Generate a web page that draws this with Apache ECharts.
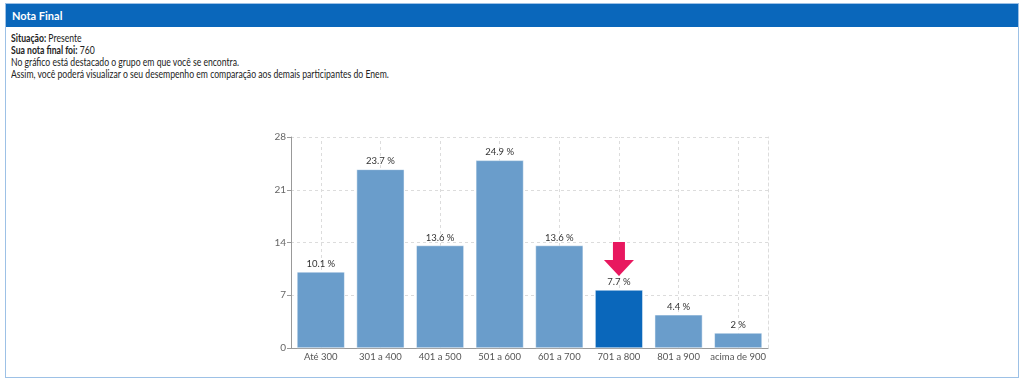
<!DOCTYPE html>
<html><head><meta charset="utf-8">
<script src="https://cdn.jsdelivr.net/npm/echarts@6/dist/echarts.min.js"></script>
<style>
html,body{margin:0;padding:0;width:1024px;height:384px;background:#fff;overflow:hidden;font-family:Lato,"Open Sans",sans-serif;}
#panel{position:absolute;left:5px;top:3px;width:1012px;height:373px;border:1px solid #9dc1e6;box-sizing:content-box;}
#head{position:absolute;left:0;top:0;width:100%;height:23px;background:#0a67bb;color:#fff;font-weight:bold;font-size:11px;line-height:23px;padding-left:6px;box-sizing:border-box;}
#txt{position:absolute;left:5px;top:28px;font-size:10.8px;line-height:12px;color:#222;transform:scaleX(0.8);transform-origin:0 0;white-space:nowrap;}
#chart{position:absolute;left:0;top:0;width:1024px;height:384px;}
</style></head><body>
<div id="panel"><div id="head">Nota Final</div>
<div id="txt"><b>Situação:</b> Presente<br><b>Sua nota final foi:</b> 760<br>No gráfico está destacado o grupo em que você se encontra.<br>Assim, você poderá visualizar o seu desempenho em comparação aos demais participantes do Enem.</div>
</div>
<div id="chart"></div>
<script>
const categories = ['Até 300','301 a 400','401 a 500','501 a 600','601 a 700','701 a 800','801 a 900','acima de 900'];
const values = [10.1, 23.7, 13.6, 24.9, 13.6, 7.7, 4.4, 2];
const highlightCategory = '701 a 800';
const yTicks = {min: 0, max: 28, interval: 7};

const chart = echarts.init(document.getElementById('chart'), null, {renderer:'canvas'});
const hiIdx = categories.indexOf(highlightCategory);
const gridDash = {color:'#dcdcdc', type:[3,3], width:1};
chart.setOption({
  animation:false,
  backgroundColor:'transparent',
  grid:{left:291, right:256, top:137, bottom:36},
  xAxis:{type:'category', data:categories,
    axisLine:{lineStyle:{color:'#999'}},
    axisTick:{alignWithLabel:true, length:4, lineStyle:{color:'#999'}},
    axisLabel:{color:'#555', fontSize:9.5, fontFamily:'Lato', margin:4, interval:0},
    splitLine:{show:false}},
  yAxis:[{type:'value', min:yTicks.min, max:yTicks.max, interval:yTicks.interval,
    axisLine:{show:true, lineStyle:{color:'#999'}},
    axisTick:{show:true, length:4, lineStyle:{color:'#999'}},
    axisLabel:{color:'#666', fontSize:10, fontFamily:'Lato', margin:5},
    splitLine:{lineStyle:gridDash}},
    {type:'value', position:'right', min:yTicks.min, max:yTicks.max, interval:yTicks.interval,
    axisLine:{show:true, lineStyle:gridDash}, axisTick:{show:false}, axisLabel:{show:false}, splitLine:{show:false}}],
  series:[
   {type:'line', data:[], z:0, silent:true,
    markLine:{silent:true, z:0, symbol:'none', label:{show:false}, lineStyle:gridDash,
      data: categories.map(c=>({xAxis:c}))}},
   {type:'bar', barWidth:'80%', z:2,
    data: values.map((v,i)=>({value:v, itemStyle:{color: i===hiIdx ? '#0a67bb' : '#6a9dcb'}})),
    itemStyle:{borderColor:'#fff', borderWidth:0.5},
    label:{show:true, position:'top', formatter:'{c} %', color:'#333', fontSize:9.5, fontFamily:'Lato', distance:3},
    markPoint:{symbol:'path://M9,0 L21,0 L21,18 L30,18 L15,34 L0,18 L9,18 Z', symbolSize:[30,34], symbolKeepAspect:false,
      symbolOffset:[0,-31], itemStyle:{color:'#e8185f'}, label:{show:false},
      data:[{coord:[highlightCategory, values[hiIdx]]}]}
  }]
});
</script>
</body></html>
